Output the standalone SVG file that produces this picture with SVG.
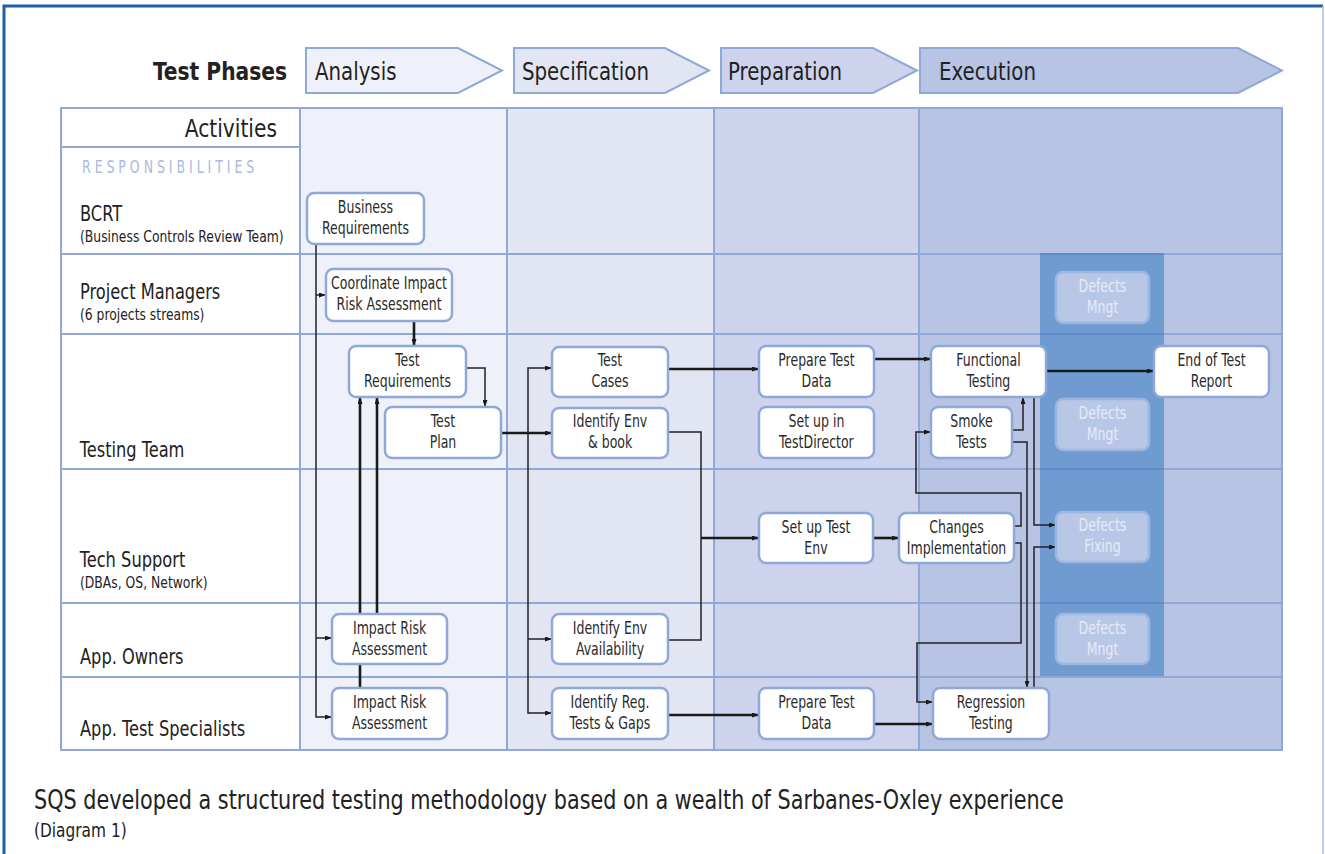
<svg xmlns="http://www.w3.org/2000/svg" width="1325" height="854" viewBox="0 0 1325 854">
<style>
  .f { font-family: "DejaVu Sans Condensed", "Liberation Sans Narrow", "Liberation Sans", sans-serif; }
  .node rect { fill: #ffffff; stroke: #8fa8d8; stroke-width: 2.5; }
  .defect rect { fill: #b9c7e7; stroke: #9bb6e0; stroke-width: 2.5; }
  .nt { font-size: 17px; fill: #2a2a2a; text-anchor: middle; transform-box: fill-box; transform-origin: center; transform: scaleX(0.82); }
  .defect .nt { fill: #e4ebf7; }
  .grid { stroke: #8fa8d8; stroke-width: 2; fill: none; }
  .phase { stroke: #8fa8d8; stroke-width: 2; }
  .pt { font-size: 25px; fill: #222; transform-box: fill-box; transform-origin: left center; transform: scaleX(0.88); }
  .ptr { transform-origin: right center; transform: scaleX(0.9); }
  .lab { font-size: 21px; fill: #222; transform-box: fill-box; transform-origin: left center; transform: scaleX(0.86); }
  .sub { font-size: 16px; fill: #222; transform-box: fill-box; transform-origin: left center; transform: scaleX(0.86); }
  .cap { fill: #222; transform-box: fill-box; transform-origin: left center; transform: scaleX(0.855); }
  .thin { stroke: #222; stroke-width: 1.5; fill: none; marker-end: url(#ah); }
  .thick { stroke: #1a1a1a; stroke-width: 2.6; fill: none; marker-end: url(#ah); }
  .plain { stroke: #222; stroke-width: 1.5; fill: none; }
</style>
<defs>
  <marker id="ah" viewBox="0 0 7 5" refX="7" refY="2.5" markerWidth="7" markerHeight="5" markerUnits="userSpaceOnUse" orient="auto">
    <path d="M0,0 L7,2.5 L0,5 z" fill="#1a1a1a"/>
  </marker>
</defs>

<!-- page -->
<rect x="0" y="0" width="1325" height="854" fill="#ffffff"/>
<path d="M4,854 V6 H1323" fill="none" stroke="#1d5ea8" stroke-width="3"/>
<line x1="1323" y1="6" x2="1323" y2="854" stroke="#a9bde0" stroke-width="1.5"/>

<!-- phases -->
<g id="phases">
  <text class="f pt ptr" x="287" y="80" text-anchor="end" font-weight="bold">Test Phases</text>
  <path class="phase" d="M306,48 H458 L502,70.5 L458,93 H306 Z" fill="#eef1f9"/>
  <text class="f pt" x="315" y="80">Analysis</text>
  <path class="phase" d="M514,48 H665 L709,70.5 L665,93 H514 Z" fill="#e2e6f3"/>
  <text class="f pt" x="522" y="80">Specification</text>
  <path class="phase" d="M721,48 H873 L917,70.5 L873,93 H721 Z" fill="#cdd3ec"/>
  <text class="f pt" x="728" y="80">Preparation</text>
  <path class="phase" d="M920,48 H1238 L1282,70.5 L1238,93 H920 Z" fill="#b7c4e4"/>
  <text class="f pt" x="939" y="80">Execution</text>
</g>

<!-- table background -->
<g id="table">
  <rect x="61" y="108" width="239" height="642" fill="#ffffff"/>
  <rect x="300" y="108" width="207" height="642" fill="#eef1f9"/>
  <rect x="507" y="108" width="207" height="642" fill="#e2e6f3"/>
  <rect x="714" y="108" width="205" height="642" fill="#cdd3ec"/>
  <rect x="919" y="108" width="363" height="642" fill="#b7c4e4"/>
  <rect x="1040" y="254" width="124" height="423" fill="#6f9bd0"/>
  <path class="grid" d="M61,108 H1282 V750 H61 Z M300,108 V750 M507,108 V750 M714,108 V750 M919,108 V750 M61,147 H300 M61,254 H1282 M61,334 H1282 M61,469 H1282 M61,603 H1282 M61,677 H1282"/>
  <path d="M1040,254 H1164 M1040,334 H1164 M1040,469 H1164 M1040,603 H1164" stroke="#5d8bcb" stroke-width="2"/>
  <text class="f pt ptr" x="277" y="137" text-anchor="end">Activities</text>
  <text class="f" x="82" y="173" font-size="17" fill="#a9b9e2" letter-spacing="4.8" style="transform-box: fill-box; transform-origin: left center; transform: scaleX(0.82);">RESPONSIBILITIES</text>
  <text class="f lab" x="80" y="221">BCRT</text>
  <text class="f sub" x="80" y="242">(Business Controls Review Team)</text>
  <text class="f lab" x="80" y="299">Project Managers</text>
  <text class="f sub" x="80" y="320">(6 projects streams)</text>
  <text class="f lab" x="80" y="457">Testing Team</text>
  <text class="f lab" x="80" y="567">Tech Support</text>
  <text class="f sub" x="80" y="588">(DBAs, OS, Network)</text>
  <text class="f lab" x="80" y="664">App. Owners</text>
  <text class="f lab" x="80" y="736">App. Test Specialists</text>
</g>

<!-- connectors -->
<g id="connectors">
  <path class="thin" d="M316,244 V717 H332"/>
  <path class="thin" d="M316,295 H326"/>
  <path class="thin" d="M316,638 H332"/>
  <path class="thick" d="M414,321 V346"/>
  <path class="thin" d="M466,368 H485 V407"/>
  <path class="thick" d="M377,614 V397"/>
  <path class="thick" d="M360,688 V397"/>
  <path class="thick" d="M501,433 H552"/>
  <path class="thin" d="M528,433 V368 H552"/>
  <path class="thin" d="M528,433 V713 H552"/>
  <path class="thin" d="M528,639 H552"/>
  <path class="thick" d="M668,369 H759"/>
  <path class="plain" d="M668,432 H701 V640 H668"/>
  <path class="thick" d="M701,538 H759"/>
  <path class="thick" d="M873,538 H899"/>
  <path class="thick" d="M874,359 H931"/>
  <path class="thick" d="M1046,371 H1154"/>
  <path class="thin" d="M1012,430 H1023 V397"/>
  <path class="thin" d="M1012,442 H1027 V688"/>
  <path class="thin" d="M1034,397 V525 H1056"/>
  <path class="thin" d="M1034,688 V547 H1056"/>
  <path class="thin" d="M1014,526 H1021 V493 H916 V432 H931"/>
  <path class="thin" d="M1014,543 H1021 V643 H917 V702 H933"/>
  <path class="thick" d="M668,715 H759"/>
  <path class="thick" d="M874,724 H933"/>
</g>

<!-- nodes -->
<g id="n-business-req" class="node"><rect x="307" y="193" width="117" height="51" rx="7"/><text class="f nt" x="365.5" y="213">Business</text><text class="f nt" x="365.5" y="234">Requirements</text></g>
<g id="n-coord-ira" class="node"><rect x="326" y="269" width="126" height="52" rx="7"/><text class="f nt" x="389" y="289">Coordinate Impact</text><text class="f nt" x="389" y="310">Risk Assessment</text></g>
<g id="n-test-req" class="node"><rect x="349" y="346" width="117" height="51" rx="7"/><text class="f nt" x="407.5" y="366">Test</text><text class="f nt" x="407.5" y="387">Requirements</text></g>
<g id="n-test-plan" class="node"><rect x="385" y="407" width="116" height="51" rx="7"/><text class="f nt" x="443" y="427">Test</text><text class="f nt" x="443" y="448">Plan</text></g>
<g id="n-ira-owners" class="node"><rect x="332" y="614" width="115" height="50" rx="7"/><text class="f nt" x="389.5" y="634">Impact Risk</text><text class="f nt" x="389.5" y="655">Assessment</text></g>
<g id="n-ira-spec" class="node"><rect x="332" y="688" width="115" height="51" rx="7"/><text class="f nt" x="389.5" y="708">Impact Risk</text><text class="f nt" x="389.5" y="729">Assessment</text></g>
<g id="n-test-cases" class="node"><rect x="552" y="347" width="116" height="50" rx="7"/><text class="f nt" x="610" y="366">Test</text><text class="f nt" x="610" y="387">Cases</text></g>
<g id="n-env-book" class="node"><rect x="552" y="408" width="116" height="50" rx="7"/><text class="f nt" x="610" y="427">Identify Env</text><text class="f nt" x="610" y="448">&amp; book</text></g>
<g id="n-env-avail" class="node"><rect x="552" y="614" width="116" height="50" rx="7"/><text class="f nt" x="610" y="634">Identify Env</text><text class="f nt" x="610" y="655">Availability</text></g>
<g id="n-reg-gaps" class="node"><rect x="552" y="688" width="116" height="51" rx="7"/><text class="f nt" x="610" y="708">Identify Reg.</text><text class="f nt" x="610" y="729">Tests &amp; Gaps</text></g>
<g id="n-ptd-1" class="node"><rect x="759" y="346" width="115" height="51" rx="7"/><text class="f nt" x="816.5" y="366">Prepare Test</text><text class="f nt" x="816.5" y="387">Data</text></g>
<g id="n-testdirector" class="node"><rect x="759" y="407" width="115" height="51" rx="7"/><text class="f nt" x="816.5" y="427">Set up in</text><text class="f nt" x="816.5" y="448">TestDirector</text></g>
<g id="n-setup-env" class="node"><rect x="759" y="513" width="114" height="50" rx="7"/><text class="f nt" x="816" y="533">Set up Test</text><text class="f nt" x="816" y="554">Env</text></g>
<g id="n-ptd-2" class="node"><rect x="759" y="688" width="115" height="51" rx="7"/><text class="f nt" x="816.5" y="708">Prepare Test</text><text class="f nt" x="816.5" y="729">Data</text></g>
<g id="n-changes" class="node"><rect x="899" y="513" width="115" height="50" rx="7"/><text class="f nt" x="956.5" y="533">Changes</text><text class="f nt" x="956.5" y="554">Implementation</text></g>
<g id="n-functional" class="node"><rect x="931" y="346" width="115" height="51" rx="7"/><text class="f nt" x="988.5" y="366">Functional</text><text class="f nt" x="988.5" y="387">Testing</text></g>
<g id="n-smoke" class="node"><rect x="931" y="407" width="81" height="51" rx="7"/><text class="f nt" x="971.5" y="427">Smoke</text><text class="f nt" x="971.5" y="448">Tests</text></g>
<g id="n-regression" class="node"><rect x="933" y="688" width="116" height="51" rx="7"/><text class="f nt" x="991" y="708">Regression</text><text class="f nt" x="991" y="729">Testing</text></g>
<g id="n-end-report" class="node"><rect x="1154" y="346" width="115" height="51" rx="7"/><text class="f nt" x="1211.5" y="366">End of Test</text><text class="f nt" x="1211.5" y="387">Report</text></g>
<g id="n-defects-1" class="defect"><rect x="1056" y="272" width="93" height="51" rx="7"/><text class="f nt" x="1102.5" y="292">Defects</text><text class="f nt" x="1102.5" y="313">Mngt</text></g>
<g id="n-defects-2" class="defect"><rect x="1056" y="399" width="93" height="51" rx="7"/><text class="f nt" x="1102.5" y="419">Defects</text><text class="f nt" x="1102.5" y="440">Mngt</text></g>
<g id="n-defects-fix" class="defect"><rect x="1056" y="512" width="93" height="50" rx="7"/><text class="f nt" x="1102.5" y="531">Defects</text><text class="f nt" x="1102.5" y="552">Fixing</text></g>
<g id="n-defects-3" class="defect"><rect x="1056" y="614" width="93" height="50" rx="7"/><text class="f nt" x="1102.5" y="634">Defects</text><text class="f nt" x="1102.5" y="655">Mngt</text></g>

<!-- caption -->
<text class="f cap" x="34" y="809" font-size="27">SQS developed a structured testing methodology based on a wealth of Sarbanes-Oxley experience</text>
<text class="f cap" x="34" y="837" font-size="20">(Diagram 1)</text>
</svg>
